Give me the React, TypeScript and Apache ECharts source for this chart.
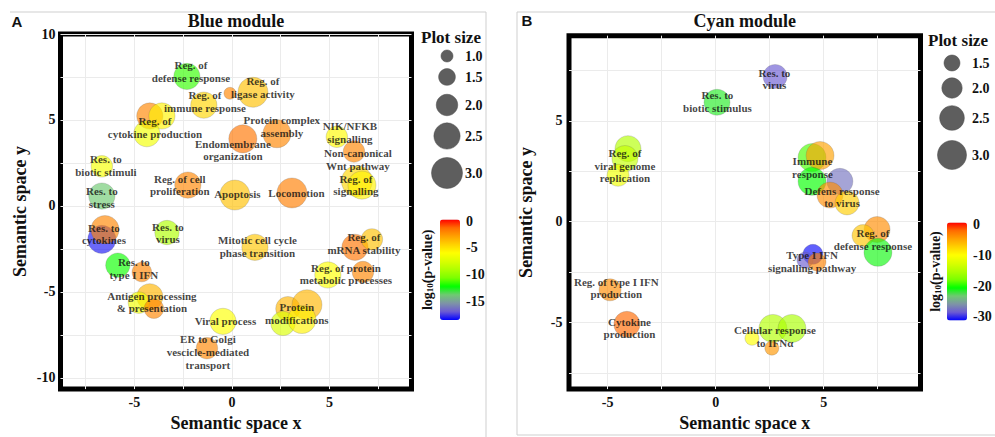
import React, { useEffect, useRef } from 'react';
import * as echarts from 'echarts';

const SERIF = '"Liberation Serif", "Times New Roman", serif';
const SANS = '"Liberation Sans", Arial, sans-serif';

// ---------------- Panel A : Blue module ----------------
const A_X = [-2.31, -1.44, -0.10, 1.08, -4.21, -3.59, -4.36, 0.56, 2.31, 5.38, 6.26, 6.41, 6.67, -6.67, -6.67, -2.26, 0.15, 3.08, -6.67, -6.51, -3.33, -5.85, -4.62, -4.21, -4.77, -4.00, -0.46, -1.28, 1.18, 6.31, 7.18, 4.92, 6.72, 2.87, 3.85, 2.62, 3.59];
const A_Y = [7.53, 5.86, 6.55, 6.61, 5.23, 5.23, 4.20, 3.90, 4.20, 4.02, 3.16, 1.44, 1.21, 2.30, 0.57, 1.21, 0.63, 0.75, -1.95, -1.38, -1.55, -3.45, -3.85, -5.29, -5.63, -5.98, -6.72, -8.28, -2.41, -2.41, -1.95, -4.02, -3.85, -5.98, -5.75, -6.84, -6.61];
const A_SIZE = [2.5, 2.5, 1.0, 2.9, 2.5, 2.5, 2.5, 2.7, 2.7, 2.0, 2.0, 3.0, 2.7, 2.0, 2.5, 2.5, 2.9, 2.9, 2.7, 2.7, 2.3, 2.3, 1.8, 2.5, 2.0, 1.8, 2.5, 2.0, 2.5, 2.5, 2.0, 2.5, 2.0, 2.3, 2.9, 2.3, 2.7];
const A_LOGP = [-11.5, -4.5, -2, -3.8, -2, -5.5, -6.5, -1.5, -2, -5.8, -2, -4.5, -5.5, -6.3, -13.7, -2, -3.8, -1.8, -18, -2, -9, -12, -2, -3.5, -6.5, -2, -6, -2, -4, -1.5, -3.8, -6, -2, -3.5, -3.5, -7.5, -5.5];

const A_LABELS = [
  'Reg. of\ndefense response', 'Reg. of\nimmune response', 'Reg. of\nligase activity', 'Reg. of\ncytokine production',
  'Endomembrane\norganization', 'Protein complex\nassembly', 'NIK/NFKB\nsignalling', 'Non-canonical\nWnt pathway',
  'Reg. of\nsignalling', 'Res. to\nbiotic stimuli', 'Res. to\nstress', 'Reg. of cell\nproliferation', 'Apoptosis',
  'Locomotion', 'Res. to\ncytokines', 'Res. to\nvirus', 'Res. to\ntype I IFN', 'Antigen processing\n& presentation',
  'Viral process', 'ER to Golgi\nvescicle-mediated\ntransport', 'Mitotic cell cycle\nphase transition',
  'Reg. of\nmRNA stability', 'Reg. of protein\nmetabolic processes', 'Protein\nmodifications'
];
const A_LABEL_X = [-2.10, -1.38, 1.59, -3.95, 0.05, 2.56, 6.05, 6.46, 6.36, -6.46, -6.67, -2.67, 0.28, 3.31, -6.56, -3.28, -5.03, -4.10, -0.33, -1.23, 1.31, 6.77, 5.85, 3.33];
const A_LABEL_Y = [7.82, 6.06, 6.90, 4.57, 3.25, 4.63, 4.25, 2.70, 1.21, 2.36, 0.49, 1.21, 0.69, 0.75, -1.64, -1.58, -3.65, -5.60, -6.72, -8.51, -2.36, -2.18, -3.97, -6.25];

const A_X_RANGE = [-8.79, 9.21];
const A_Y_RANGE = [-10.66, 10];
const A_X_LABELS = [-5, 0, 5];
const A_Y_LABELS = [-10, -5, 0, 5, 10];
const A_X_GRID = [-7.5, -5, -2.5, 0, 2.5, 5, 7.5];
const A_Y_GRID = [-10, -7.5, -5, -2.5, 0, 2.5, 5, 7.5, 10];
const A_SIZE_LEGEND = [1.0, 1.5, 2.0, 2.5, 3.0];
const A_COLOR_RANGE = [-18.4, 0.3];
const A_COLOR_TICKS = [0, -5, -10, -15];

// ---------------- Panel B : Cyan module ----------------
const B_X = [0.06, 2.75, -4.06, -4.20, -4.52, 4.46, 4.83, 4.46, 5.75, 5.29, 6.08, 7.47, 6.82, 7.51, 4.50, 4.13, 4.69, 2.65, 3.53, 1.68, 2.60, -4.89, -4.11];
const B_Y = [5.92, 7.20, 3.62, 3.13, 2.30, 3.18, 3.28, 2.00, 2.00, 1.32, 0.93, -0.39, -0.69, -1.52, -1.62, -1.91, -2.00, -5.29, -5.29, -5.78, -6.27, -3.38, -5.09];
const B_SIZE = [2.65, 2.42, 2.65, 2.65, 2.19, 2.88, 2.88, 2.88, 2.65, 2.65, 2.42, 2.65, 2.19, 2.88, 1.96, 1.5, 1.73, 2.88, 2.88, 1.27, 1.27, 2.19, 2.65];
const B_LOGP = [-21.5, -28.6, -15, -14, -11, -19, -4.6, -20.5, -27.5, -3.5, -7, -3.5, -6.5, -21, -31, -28.5, -3, -15, -15.5, -10, -4, -3.5, -1.8];

const B_LABELS = [
  'Res. to\nvirus', 'Res. to\nbiotic stimulus', 'Reg. of\nviral genome\nreplication', 'Immune\nresponse',
  'Defens response\nto virus', 'Reg. of\ndefense response', 'Type I IFN\nsignalling pathway',
  'Cellular response\nto IFNα', 'Reg. of type I IFN\nproduction', 'Cytokine\nproduction'
];
const B_LABEL_X = [2.72, 0.08, -4.20, 4.48, 5.85, 7.28, 4.46, 2.74, -4.60, -3.99];
const B_LABEL_Y = [7.08, 5.97, 2.77, 2.67, 1.22, -0.88, -1.96, -5.69, -3.29, -5.27];

const B_X_RANGE = [-6.79, 9.48];
const B_Y_RANGE = [-8.30, 9.22];
const B_X_LABELS = [-5, 0, 5];
const B_Y_LABELS = [-5, 0, 5];
const B_X_GRID = [-5, -2.5, 0, 2.5, 5, 7.5];
const B_Y_GRID = [-7.5, -5, -2.5, 0, 2.5, 5, 7.5];
const B_SIZE_LEGEND = [1.5, 2.0, 2.5, 3.0];
const B_COLOR_RANGE = [-31.3, 0.8];
const B_COLOR_TICKS = [0, -10, -20, -30];

// colour gradient blue -> green -> yellow -> red (Lab-like interpolation)
const COLOR_STOPS = ['#0000ff', '#6c5bd3', '#7e94a6', '#6fc972', '#00ff00', '#7aff00', '#aeff00', '#daff00', '#ffff00', '#ffd200', '#ffa100', '#ff6c00', '#ff0000'];

const sizeA = (s: number) => 12 + (s - 1) * 9.5;
const sizeB = (s: number) => 16 + (s - 1.5) * 8.7;

type Panel = {
  grid: { left: number; top: number; width: number; height: number };
  xRange: number[]; yRange: number[];
  xLabels: number[]; yLabels: number[]; xGrid: number[]; yGrid: number[];
  yLabelMargin: number; yNameGap: number;
};

const PANEL_A: Panel = {
  grid: { left: 60.5, top: 34, width: 351, height: 359.5 },
  xRange: A_X_RANGE, yRange: A_Y_RANGE, xLabels: A_X_LABELS, yLabels: A_Y_LABELS, xGrid: A_X_GRID, yGrid: A_Y_GRID,
  yLabelMargin: 5, yNameGap: 32,
};
const PANEL_B: Panel = {
  grid: { left: 569, top: 35.7, width: 351.5, height: 357.8 },
  xRange: B_X_RANGE, yRange: B_Y_RANGE, xLabels: B_X_LABELS, yLabels: B_Y_LABELS, xGrid: B_X_GRID, yGrid: B_Y_GRID,
  yLabelMargin: 6.5, yNameGap: 34,
};

const tickFont = { fontFamily: SERIF, fontWeight: 'bold' as const, fontSize: 14, color: '#111' };
const nameFont = { fontFamily: SERIF, fontWeight: 'bold' as const, fontSize: 18, color: '#111' };

function makeAxes(p: Panel, idx: number) {
  const x = {
    type: 'value', gridIndex: idx, min: p.xRange[0], max: p.xRange[1],
    axisLine: { show: false },
    axisTick: { show: false, customValues: p.xGrid },
    axisLabel: { customValues: p.xLabels, margin: 6, ...tickFont },
    splitLine: { show: true, lineStyle: { color: '#ebebeb', width: 1 } },
    name: 'Semantic space x', nameLocation: 'middle', nameGap: 21, nameTextStyle: nameFont,
  };
  const y = {
    type: 'value', gridIndex: idx, min: p.yRange[0], max: p.yRange[1],
    axisLine: { show: false },
    axisTick: { show: false, customValues: p.yGrid },
    axisLabel: { customValues: p.yLabels, margin: p.yLabelMargin, ...tickFont },
    splitLine: { show: true, lineStyle: { color: '#ebebeb', width: 1 } },
    name: 'Semantic space y', nameLocation: 'middle', nameGap: p.yNameGap, nameTextStyle: nameFont,
  };
  return { x, y };
}

function bubbleSeries(idx: number, xs: number[], ys: number[], ss: number[], ps: number[], sizeFn: (s: number) => number) {
  return {
    type: 'scatter', xAxisIndex: idx, yAxisIndex: idx, z: 2,
    data: xs.map((v, i) => [v, ys[i], ss[i], ps[i]]),
    symbolSize: (val: number[]) => sizeFn(val[2]),
    itemStyle: { opacity: 0.65, borderColor: 'rgba(90,90,90,0.55)', borderWidth: 0.6 },
    emphasis: { disabled: true },
    silent: true,
  };
}

function labelSeries(idx: number, texts: string[], xs: number[], ys: number[]) {
  return {
    type: 'scatter', xAxisIndex: idx, yAxisIndex: idx, z: 5,
    data: texts.map((t, i) => ({ name: t, value: [xs[i], ys[i]] })),
    symbolSize: 1,
    itemStyle: { color: 'rgba(0,0,0,0)' },
    label: {
      show: true, position: 'inside', formatter: '{b}', fontFamily: SERIF, fontWeight: 'bold',
      fontSize: 11, lineHeight: 12.7, color: '#111', align: 'center', verticalAlign: 'middle',
    },
    emphasis: { disabled: true },
    silent: true,
  };
}

type CB = { left: number; top: number; width: number; height: number; range: number[]; ticks: number[] };
const CB_A: CB = { left: 440, top: 219.5, width: 20, height: 100.5, range: A_COLOR_RANGE, ticks: A_COLOR_TICKS };
const CB_B: CB = { left: 947, top: 222.5, width: 20, height: 98, range: B_COLOR_RANGE, ticks: B_COLOR_TICKS };

function visualMap(seriesIndex: number, cb: CB) {
  return {
    type: 'continuous', seriesIndex, dimension: 3, min: cb.range[0], max: cb.range[1],
    inRange: { color: COLOR_STOPS }, left: cb.left, top: cb.top, itemWidth: cb.width, itemHeight: cb.height,
    calculable: false, hoverLink: false, padding: 0, text: null, showLabel: false,
  };
}

function colorbarGraphics(cb: CB, titleX: number) {
  const [mn, mx] = cb.range;
  const els: any[] = cb.ticks.map((t) => ({
    type: 'text', x: cb.left + cb.width + 6, y: cb.top + ((mx - t) / (mx - mn)) * cb.height,
    style: { text: String(t), fontFamily: SERIF, fontWeight: 'bold', fontSize: 14, fill: '#111', align: 'left', verticalAlign: 'middle' },
  }));
  els.push({
    type: 'text', x: titleX, y: cb.top + cb.height / 2, rotation: Math.PI / 2,
    style: {
      text: '{a|log}{s|10}{a|(p-value)}', align: 'center', verticalAlign: 'middle', fill: '#111',
      rich: {
        a: { fontFamily: SERIF, fontWeight: 'bold', fontSize: 14, fill: '#111' },
        s: { fontFamily: SERIF, fontWeight: 'bold', fontSize: 9, fill: '#111', verticalAlign: 'bottom', padding: [6, 0, 0, 0] },
      },
    },
  });
  return els;
}

function sizeLegend(title: { x: number; y: number }, cx: number, ys: number[], labelX: number, sizes: number[], fn: (s: number) => number) {
  const els: any[] = [{
    type: 'text', x: title.x, y: title.y,
    style: { text: 'Plot size', fontFamily: SERIF, fontWeight: 'bold', fontSize: 17, fill: '#111', align: 'left', verticalAlign: 'middle' },
  }];
  sizes.forEach((s, i) => {
    els.push({ type: 'circle', shape: { cx, cy: ys[i], r: fn(s) / 2 }, style: { fill: '#5e5e5e', stroke: '#4a4a4a', lineWidth: 0.5 } });
    els.push({
      type: 'text', x: labelX, y: ys[i],
      style: { text: s.toFixed(1), fontFamily: SERIF, fontWeight: 'bold', fontSize: 14, fill: '#111', align: 'left', verticalAlign: 'middle' },
    });
  });
  return els;
}

export default function App() {
  const ref = useRef<HTMLDivElement>(null);
  useEffect(() => {
    const chart = echarts.init(ref.current!, null, { renderer: 'svg' });
    const axA = makeAxes(PANEL_A, 0);
    const axB = makeAxes(PANEL_B, 1);
    const gridStyle = { show: true, borderColor: '#000', borderWidth: 5, backgroundColor: '#fff' };

    const graphics: any[] = [
      { type: 'polyline', shape: { points: [[10, 12], [486, 12], [486, 440]] }, style: { stroke: '#cfcfcf', lineWidth: 1, fill: null } },
      { type: 'polyline', shape: { points: [[998, 12], [517, 12], [517, 435], [998, 435]] }, style: { stroke: '#cfcfcf', lineWidth: 1, fill: null } },
      { type: 'text', x: 17, y: 21, style: { text: 'A', fontFamily: SANS, fontWeight: 'bold', fontSize: 15, fill: '#111', align: 'center', verticalAlign: 'middle' } },
      { type: 'text', x: 527, y: 20, style: { text: 'B', fontFamily: SANS, fontWeight: 'bold', fontSize: 15, fill: '#111', align: 'center', verticalAlign: 'middle' } },
      { type: 'text', x: PANEL_A.grid.left + PANEL_A.grid.width / 2, y: 20.5, style: { text: 'Blue module', fontFamily: SERIF, fontWeight: 'bold', fontSize: 18, fill: '#111', align: 'center', verticalAlign: 'middle' } },
      { type: 'text', x: PANEL_B.grid.left + PANEL_B.grid.width / 2, y: 20.5, style: { text: 'Cyan module', fontFamily: SERIF, fontWeight: 'bold', fontSize: 18, fill: '#111', align: 'center', verticalAlign: 'middle' } },
      ...sizeLegend({ x: 421, y: 37 }, 447, [56, 77, 105, 136, 173], 465, A_SIZE_LEGEND, sizeA),
      ...sizeLegend({ x: 928, y: 40 }, 952, [63, 88, 118, 155], 972, B_SIZE_LEGEND, sizeB),
      ...colorbarGraphics(CB_A, 427),
      ...colorbarGraphics(CB_B, 935),
    ];

    chart.setOption({
      animation: false,
      backgroundColor: '#fff',
      grid: [{ ...PANEL_A.grid, ...gridStyle }, { ...PANEL_B.grid, ...gridStyle }],
      xAxis: [axA.x, axB.x],
      yAxis: [axA.y, axB.y],
      visualMap: [visualMap(0, CB_A), visualMap(2, CB_B)],
      series: [
        bubbleSeries(0, A_X, A_Y, A_SIZE, A_LOGP, sizeA),
        labelSeries(0, A_LABELS, A_LABEL_X, A_LABEL_Y),
        bubbleSeries(1, B_X, B_Y, B_SIZE, B_LOGP, sizeB),
        labelSeries(1, B_LABELS, B_LABEL_X, B_LABEL_Y),
      ],
      graphic: graphics,
    });
    return () => chart.dispose();
  }, []);
  return <div ref={ref} style={{ position: 'absolute', left: 0, top: 0, width: 995, height: 437, background: '#fff' }} />;
}
